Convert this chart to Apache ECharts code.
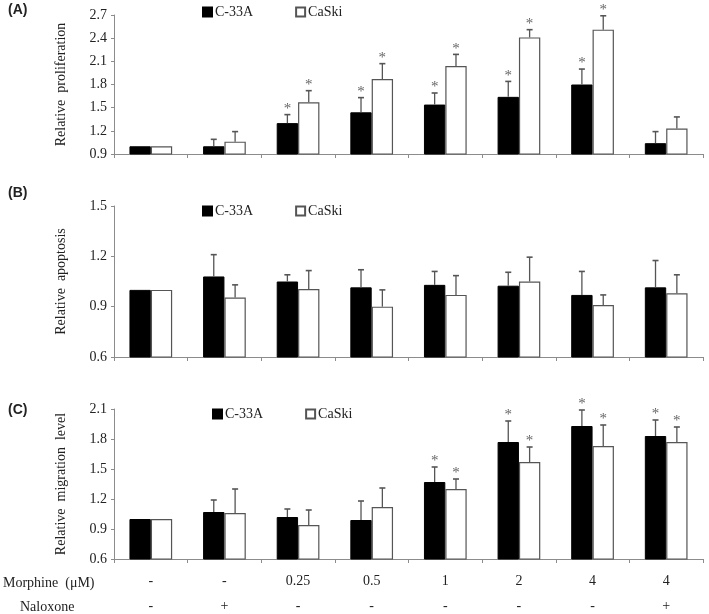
<!DOCTYPE html>
<html><head><meta charset="utf-8">
<script src="https://cdn.jsdelivr.net/npm/echarts@6/dist/echarts.min.js"></script>
<style>html,body{margin:0;padding:0;background:#fff}#c{width:709px;height:614px}</style>
</head><body><div id="c"></div>
<script>
var categories = ['g1','g2','g3','g4','g5','g6','g7','g8'];
var morphine = ['-','-','0.25','0.5','1','2','4','4'];
var naloxone = ['-','+','-','-','-','-','-','+'];
var seriesNames = ['C-33A','CaSki'];

// Panel A: relative proliferation
var profC33A = [1.00, 1.00, 1.30, 1.44, 1.54, 1.64, 1.80, 1.04];
var profC33AErr = [0, 0.09, 0.11, 0.19, 0.15, 0.20, 0.20, 0.15];
var profCaSki = [1.00, 1.06, 1.57, 1.87, 2.04, 2.41, 2.51, 1.23];
var profCaSkiErr = [0, 0.13, 0.15, 0.20, 0.15, 0.10, 0.18, 0.15];
var profStar = [false, false, true, true, true, true, true, false];

// Panel B: relative apoptosis
var apoC33A = [1.00, 1.08, 1.05, 1.015, 1.03, 1.025, 0.97, 1.015];
var apoC33AErr = [0, 0.13, 0.04, 0.105, 0.08, 0.08, 0.14, 0.16];
var apoCaSki = [1.00, 0.955, 1.005, 0.90, 0.97, 1.05, 0.91, 0.98];
var apoCaSkiErr = [0, 0.075, 0.11, 0.10, 0.115, 0.145, 0.06, 0.11];

// Panel C: relative migration level
var migC33A = [1.00, 1.07, 1.02, 0.99, 1.37, 1.77, 1.93, 1.83];
var migC33AErr = [0, 0.12, 0.08, 0.19, 0.15, 0.21, 0.16, 0.16];
var migCaSki = [1.00, 1.06, 0.94, 1.12, 1.30, 1.57, 1.73, 1.77];
var migCaSkiErr = [0, 0.24, 0.15, 0.19, 0.10, 0.15, 0.21, 0.15];
var migStar = [false, false, false, false, true, true, true, true];

var noStar = [false, false, false, false, false, false, false, false];

var serif = '"Liberation Serif", "Times New Roman", serif';
var axisGray = '#8c8c8c';
var grids = [
  {left: 114, right: 6, top: 15, height: 139, outerBoundsMode: 'none', containLabel: false},
  {left: 114, right: 6, top: 206, height: 151, outerBoundsMode: 'none', containLabel: false},
  {left: 114, right: 6, top: 409, height: 150, outerBoundsMode: 'none', containLabel: false}
];
var yCfg = [
  {min: 0.9, max: 2.7, interval: 0.3, name: 'Relative  proliferation'},
  {min: 0.6, max: 1.5, interval: 0.3, name: 'Relative  apoptosis'},
  {min: 0.6, max: 2.1, interval: 0.3, name: 'Relative  migration  level'}
];

var xAxes = [], yAxes = [];
for (var i = 0; i < 3; i++) {
  xAxes.push({
    type: 'category', gridIndex: i, data: categories,
    axisLine: {lineStyle: {color: axisGray, width: 1}},
    axisTick: {show: true, length: 4, lineStyle: {color: axisGray}},
    axisLabel: i === 2 ? {
      show: true, margin: 10, lineHeight: 25, color: '#222',
      fontFamily: serif, fontSize: 14,
      formatter: function (v, idx) { return morphine[idx] + '\n' + naloxone[idx]; }
    } : {show: false}
  });
  yAxes.push({
    type: 'value', gridIndex: i, min: yCfg[i].min, max: yCfg[i].max, interval: yCfg[i].interval,
    name: yCfg[i].name, nameLocation: 'middle', nameGap: 46,
    nameTextStyle: {fontFamily: serif, fontSize: 14, color: '#222'},
    axisLine: {show: true, lineStyle: {color: axisGray, width: 1}},
    axisTick: {show: true, length: 3, lineStyle: {color: axisGray}},
    splitLine: {show: false},
    axisLabel: {fontFamily: serif, fontSize: 14, color: '#222', margin: 7,
      formatter: function (v) { return v.toFixed(1); }}
  });
}

var series = [];
function addPanel(idx, c33, c33e, cas, case_, starsA, starsB) {
  series.push({
    name: seriesNames[0], type: 'bar', xAxisIndex: idx, yAxisIndex: idx,
    data: c33, barGap: '0%', barCategoryGap: '42%',
    itemStyle: {color: '#000', borderColor: '#000', borderWidth: 1}
  });
  series.push({
    name: seriesNames[1], type: 'bar', xAxisIndex: idx, yAxisIndex: idx,
    data: cas, barGap: '0%', barCategoryGap: '42%',
    itemStyle: {color: '#fff', borderColor: '#555', borderWidth: 1.2}
  });
  [[c33, c33e, starsA, -1], [cas, case_, starsB, 1]].forEach(function (s) {
    var vals = s[0], errs = s[1], stars = s[2], side = s[3];
    var data = vals.map(function (v, k) { return [k, v, v + errs[k], stars[k] ? 1 : 0]; });
    series.push({
      type: 'custom', xAxisIndex: idx, yAxisIndex: idx, data: data, silent: true, z: 5,
      renderItem: function (params, api) {
        var k = api.value(0);
        var band = api.size([1, 0])[0];
        var off = side * band * 0.145;
        var p0 = api.coord([k, api.value(1)]);
        var p1 = api.coord([k, api.value(2)]);
        var x = p0[0] + off;
        var children = [];
        if (api.value(2) > api.value(1)) {
          children.push({type: 'line', shape: {x1: x, y1: p0[1], x2: x, y2: p1[1]},
            style: {stroke: '#555', lineWidth: 1.3}});
          children.push({type: 'line', shape: {x1: x - 3, y1: p1[1], x2: x + 3, y2: p1[1]},
            style: {stroke: '#555', lineWidth: 1.6}});
        }
        if (api.value(3)) {
          children.push({type: 'text', x: x, y: p1[1] + 2,
            style: {text: '*', fill: '#666', font: '15px ' + serif, textAlign: 'center', textVerticalAlign: 'bottom'}});
        }
        return {type: 'group', children: children};
      }
    });
  });
}
addPanel(0, profC33A, profC33AErr, profCaSki, profCaSkiErr, profStar, profStar);
addPanel(1, apoC33A, apoC33AErr, apoCaSki, apoCaSkiErr, noStar, noStar);
addPanel(2, migC33A, migC33AErr, migCaSki, migCaSkiErr, migStar, migStar);

function legend(left, top) {
  return {left: left, top: top, itemWidth: 9, itemHeight: 9, itemGap: 42, icon: 'rect',
    selectedMode: false, data: seriesNames,
    textStyle: {fontFamily: serif, fontSize: 14, color: '#222', padding: [0, 0, 0, -2]}};
}

var chart = echarts.init(document.getElementById('c'), null, {renderer: 'canvas'});
chart.setOption({
  animation: false,
  backgroundColor: '#fff',
  grid: grids,
  xAxis: xAxes,
  yAxis: yAxes,
  legend: [legend(197, 0), legend(197, 199), legend(207, 402)],
  series: series,
  graphic: [
    {type: 'text', left: 8, top: 3, style: {text: '(A)', font: 'bold 14px "Liberation Sans", Arial, sans-serif', fill: '#222'}},
    {type: 'text', left: 8, top: 186, style: {text: '(B)', font: 'bold 14px "Liberation Sans", Arial, sans-serif', fill: '#222'}},
    {type: 'text', left: 8, top: 403, style: {text: '(C)', font: 'bold 14px "Liberation Sans", Arial, sans-serif', fill: '#222'}},
    {type: 'text', left: 3, top: 576, style: {text: 'Morphine  (\u03bcM)', font: '14px ' + serif, fill: '#222'}},
    {type: 'text', left: 20, top: 600, style: {text: 'Naloxone', font: '14px ' + serif, fill: '#222'}}
  ]
});
</script></body></html>
